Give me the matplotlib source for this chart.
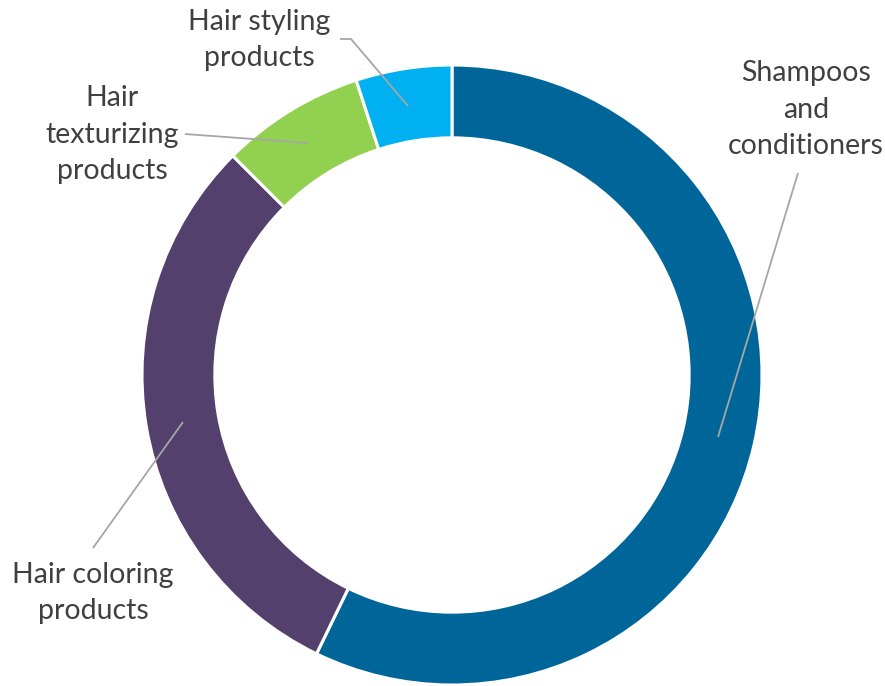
import matplotlib
matplotlib.use("Agg")
import matplotlib.pyplot as plt

labels_disp = ["Shampoos\nand\nconditioners", "Hair coloring\nproducts",
               "Hair\ntexturizing\nproducts", "Hair styling\nproducts"]
values = [57.2, 30.3, 7.5, 5.0]
colors = ["#006699", "#54406C", "#92D050", "#00B0F0"]

W, H = 885, 686
cx, cy, R = 452, 375, 310

fig = plt.figure(figsize=(W / 100, H / 100), dpi=100)
ax = fig.add_axes([0, 0, 1, 1])

wedges, _ = ax.pie(values, colors=colors, startangle=90, counterclock=False,
                   radius=1.0,
                   wedgeprops=dict(width=0.235, edgecolor="white", linewidth=2.2))
ax.set_xlim((0 - cx) / R, (W - cx) / R)
ax.set_ylim((cy - H) / R, cy / R)
ax.set_aspect("equal")
ax.axis("off")


def px(x, y):
    return ((x - cx) / R, (cy - y) / R)


label_pos = [(806, 110), (93, 593), (112, 135), (259, 40)]
leader = [
    [(798, 173), (718, 437)],
    [(93, 548), (183, 422)],
    [(185, 134), (308, 143)],
    [(340, 39), (351, 39), (408, 106)],
]

for lab, pos, pts in zip(labels_disp, label_pos, leader):
    x, y = px(*pos)
    ax.text(x, y, lab, ha="center", va="center", fontsize=20.5,
            family="Lato", color="#404040", linespacing=1.5)
    xs = [px(*p)[0] for p in pts]
    ys = [px(*p)[1] for p in pts]
    ax.plot(xs, ys, color="#A6A6A6", lw=1.3, solid_capstyle="butt")

fig.savefig("out.png", dpi=100)
